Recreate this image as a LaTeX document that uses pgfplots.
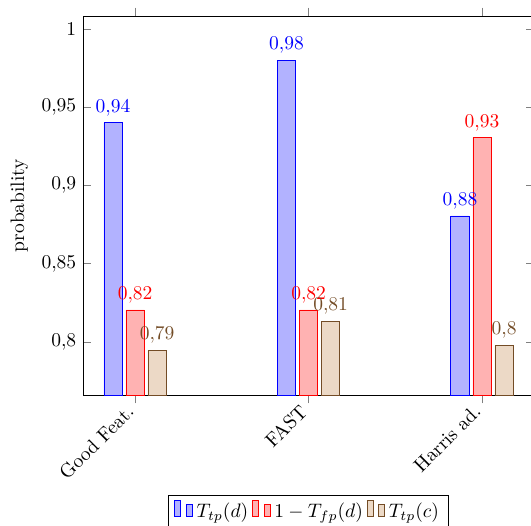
\documentclass[border=0pt]{standalone}
\usepackage{pgfplots}
\pgfplotsset{compat=1.18}
\begin{document}
\begin{tikzpicture}
\pgfplotsset{/pgf/number format/use comma}
\begin{axis}[
  scale only axis,
  width=231.3pt, height=194.4pt,
  ybar=1.9pt, bar width=9.4pt,
  xmin=-0.3, xmax=2.3,
  ymin=0.766, ymax=1.0083,
  xtick={0,1,2},
  xticklabels={Good Feat., FAST, Harris ad.},
  x tick label style={rotate=45, anchor=east},
  ytick={0.8,0.85,0.9,0.95,1},
  ylabel={probability},
  nodes near coords,
  legend columns=-1,
  legend style={at={(0.5,-0.264)}, anchor=north},
]
\addplot coordinates {(0,0.94) (1,0.98) (2,0.8805)};
\addplot coordinates {(0,0.8204) (1,0.8204) (2,0.9305)};
\addplot coordinates {(0,0.7944) (1,0.813) (2,0.7976)};
\legend{$T_{tp}(d)$, $1-T_{fp}(d)$, $T_{tp}(c)$}
\end{axis}
\pgfresetboundingbox
\path[use as bounding box] (-42.6pt,-66.7pt) rectangle (229.7pt,202.6pt);
\end{tikzpicture}
\end{document}
